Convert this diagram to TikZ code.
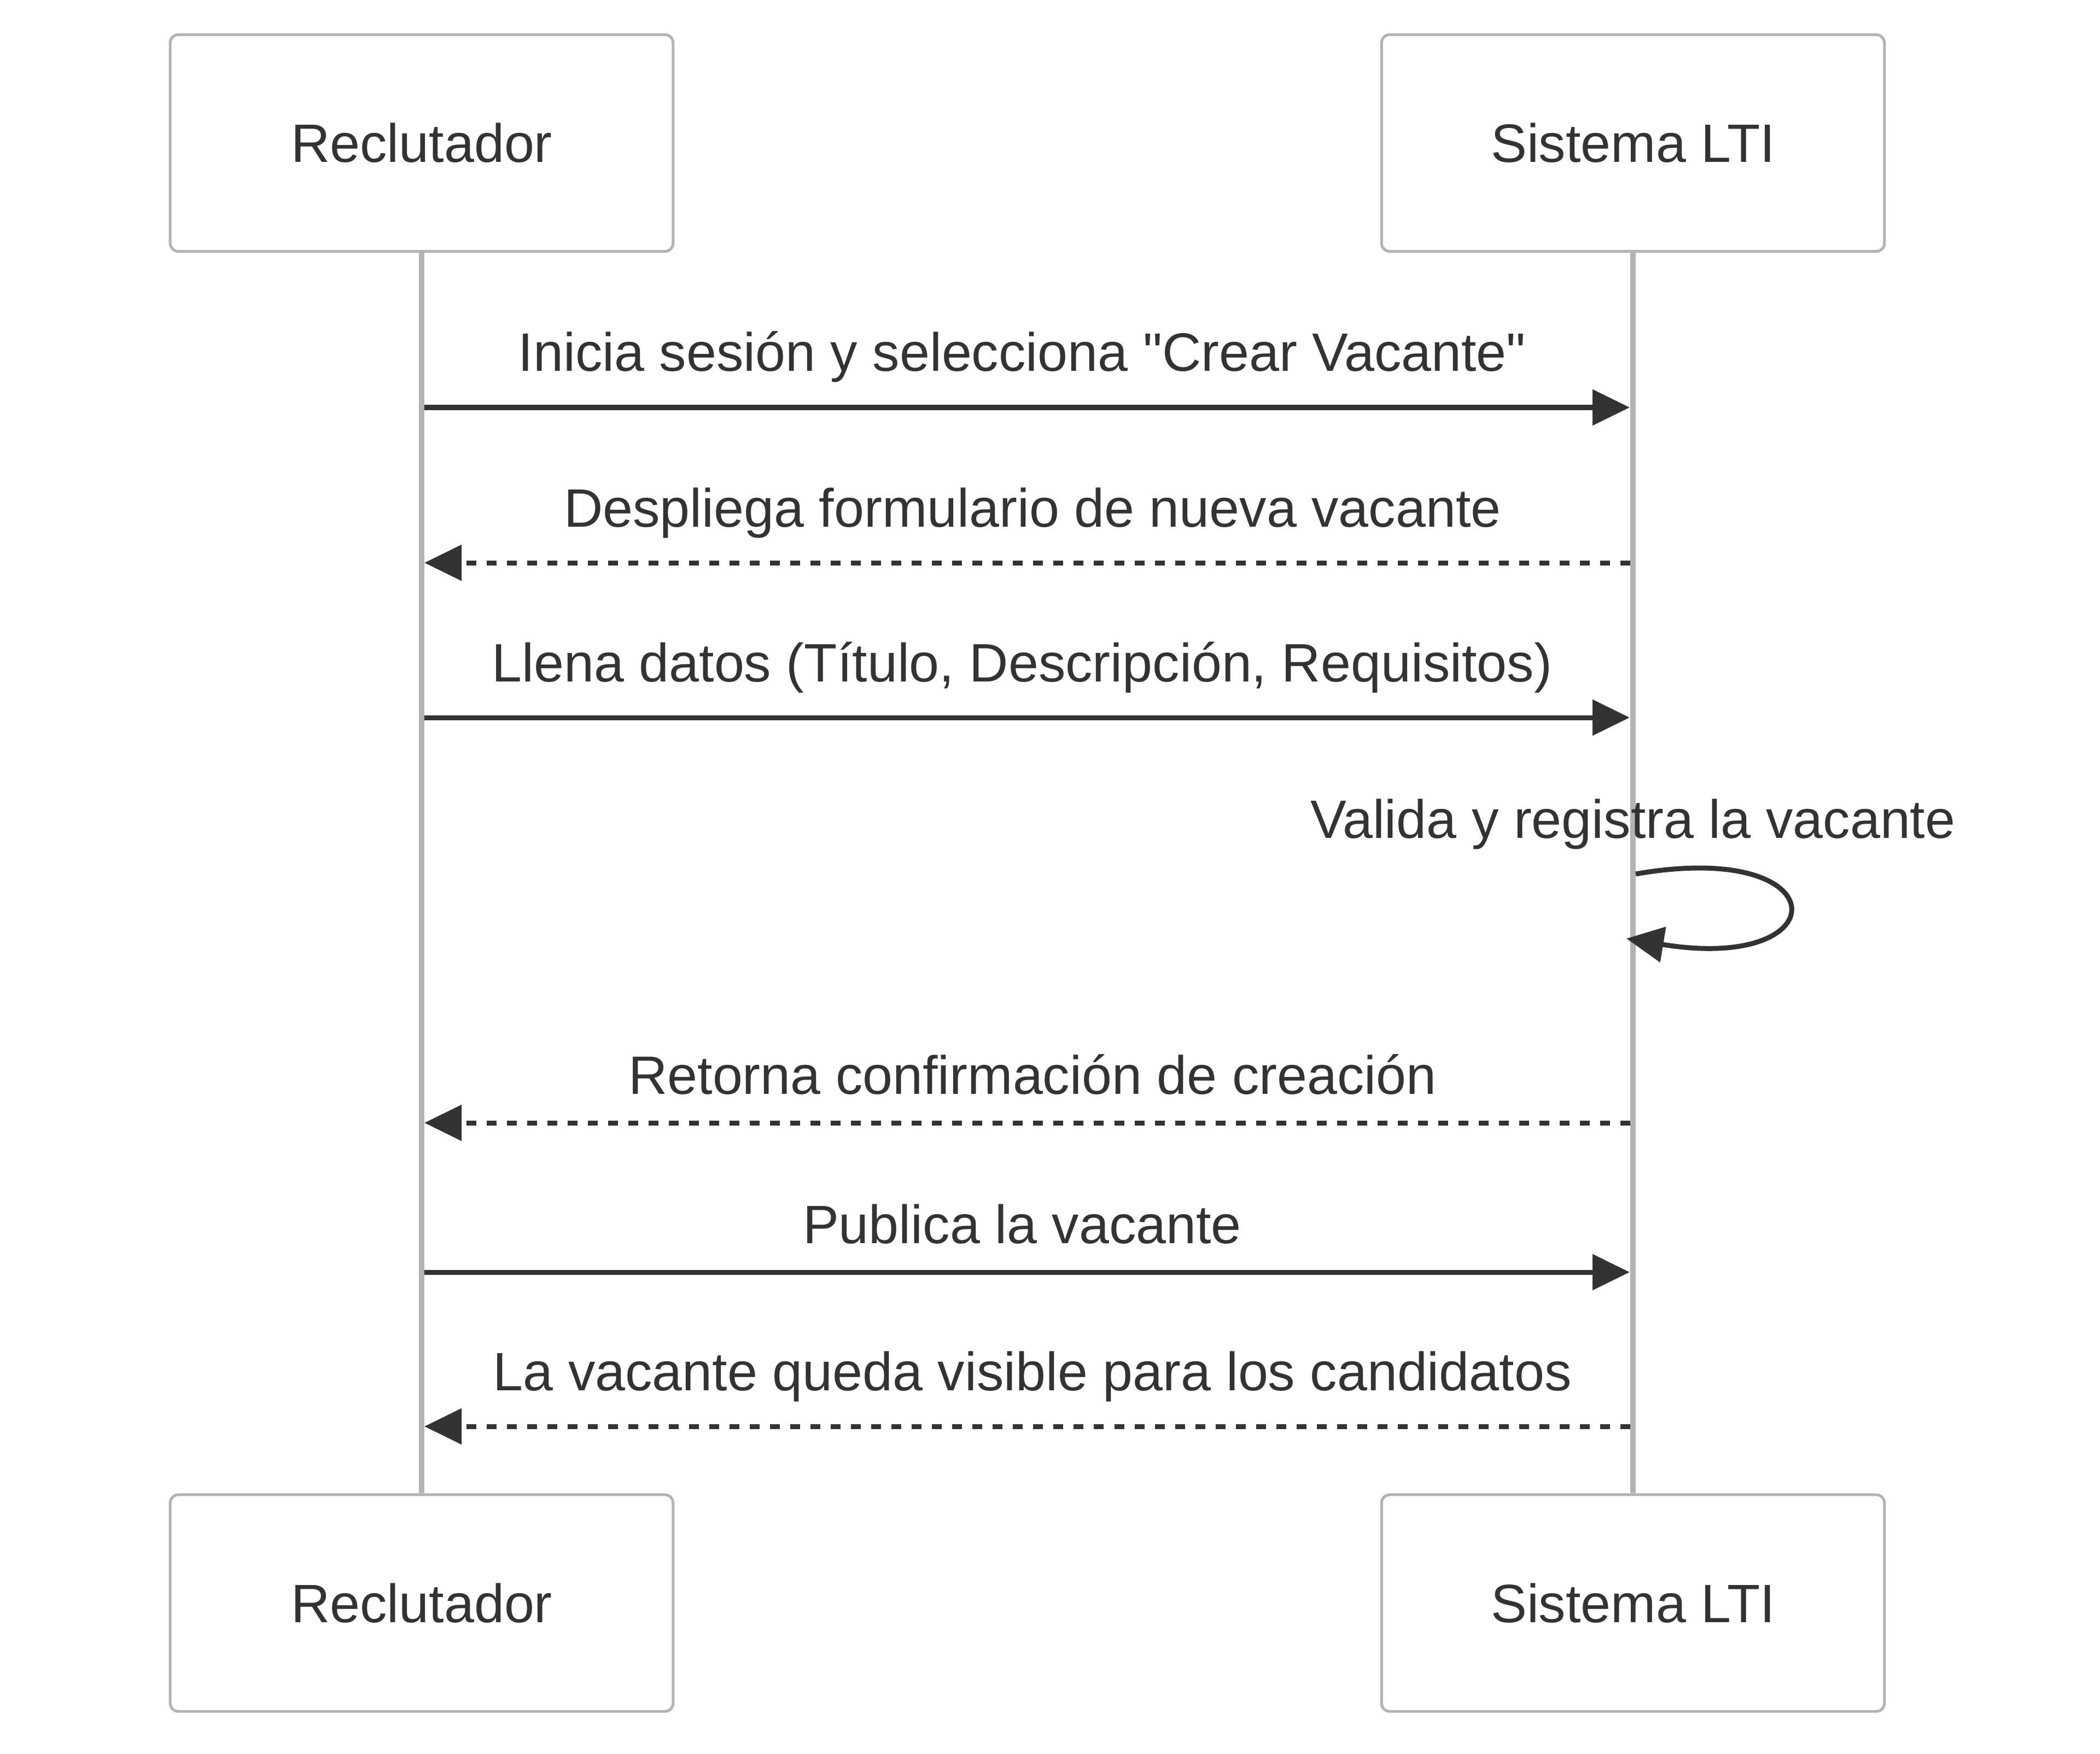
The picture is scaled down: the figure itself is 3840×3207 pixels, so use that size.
\documentclass[tikz,border=0pt]{standalone}
\usepackage{fontspec}
\setmainfont{Liberation Sans}[Ligatures=TeXOff]
\usetikzlibrary{arrows.meta}
\definecolor{txt}{HTML}{333333}
\definecolor{edge}{HTML}{B3B3B3}
\tikzset{
  actorbox/.style={draw=edge, line width=0.05cm, rounded corners=0.15cm, fill=white,
    minimum width=9.19cm, minimum height=3.96cm, inner sep=0pt, text=txt,
    font=\fontsize{28.1pt}{33pt}\selectfont},
  lifeline/.style={draw=edge, line width=0.1cm},
  msg/.style={draw=txt, line width=0.09cm, -{Triangle[length=0.68cm,width=0.64cm]}},
  reply/.style={msg, dash pattern=on 0.18cm off 0.19cm},
  lbl/.style={anchor=base, text=txt, inner sep=0pt, font=\fontsize{28.1pt}{33pt}\selectfont}
}
\begin{document}
\begin{tikzpicture}[x=0.01cm, y=-0.01cm]
\useasboundingbox (0,0) rectangle (3840,3207);
% actors
\node[actorbox] (rt) at (771,261.5) {Reclutador};
\node[actorbox] (st) at (2986,261.5) {Sistema LTI};
\node[actorbox] (rb) at (771,2931) {Reclutador};
\node[actorbox] (sb) at (2986,2931) {Sistema LTI};
% lifelines
\draw[lifeline] (rt.south) -- (rb.north);
\draw[lifeline] (st.south) -- (sb.north);
% message endpoints
\coordinate (r1) at (776,745);  \coordinate (s1) at (2980,745);
\coordinate (r2) at (776,1029); \coordinate (s2) at (2981,1029);
\coordinate (r3) at (776,1312); \coordinate (s3) at (2980,1312);
\coordinate (r5) at (776,2053); \coordinate (s5) at (2981,2053);
\coordinate (r6) at (776,2326); \coordinate (s6) at (2980,2326);
\coordinate (r7) at (776,2608); \coordinate (s7) at (2981,2608);
\coordinate (ls) at (2991,1598);
\coordinate (lc1) at (3363,1533);
\coordinate (lc2) at (3363,1780);
\coordinate (le) at (2974,1716);
% messages
\draw[msg] (r1) -- (s1);
\node[lbl] (m1) at (1869,679) {Inicia sesión y selecciona "Crear Vacante"};
\draw[reply] (s2) -- (r2);
\node[lbl] (m2) at (1888,963) {Despliega formulario de nueva vacante};
\draw[msg] (r3) -- (s3);
\node[lbl] (m3) at (1869,1246) {Llena datos (Título, Descripción, Requisitos)};
\draw[msg] (ls) .. controls (lc1) and (lc2) .. (le);
\node[lbl] (m4) at (2986,1532) {Valida y registra la vacante};
\draw[reply] (s5) -- (r5);
\node[lbl] (m5) at (1888,2000) {Retorna confirmación de creación};
\draw[msg] (r6) -- (s6);
\node[lbl] (m6) at (1869,2273) {Publica la vacante};
\draw[reply] (s7) -- (r7);
\node[lbl] (m7) at (1888,2542) {La vacante queda visible para los candidatos};
\end{tikzpicture}
\end{document}
